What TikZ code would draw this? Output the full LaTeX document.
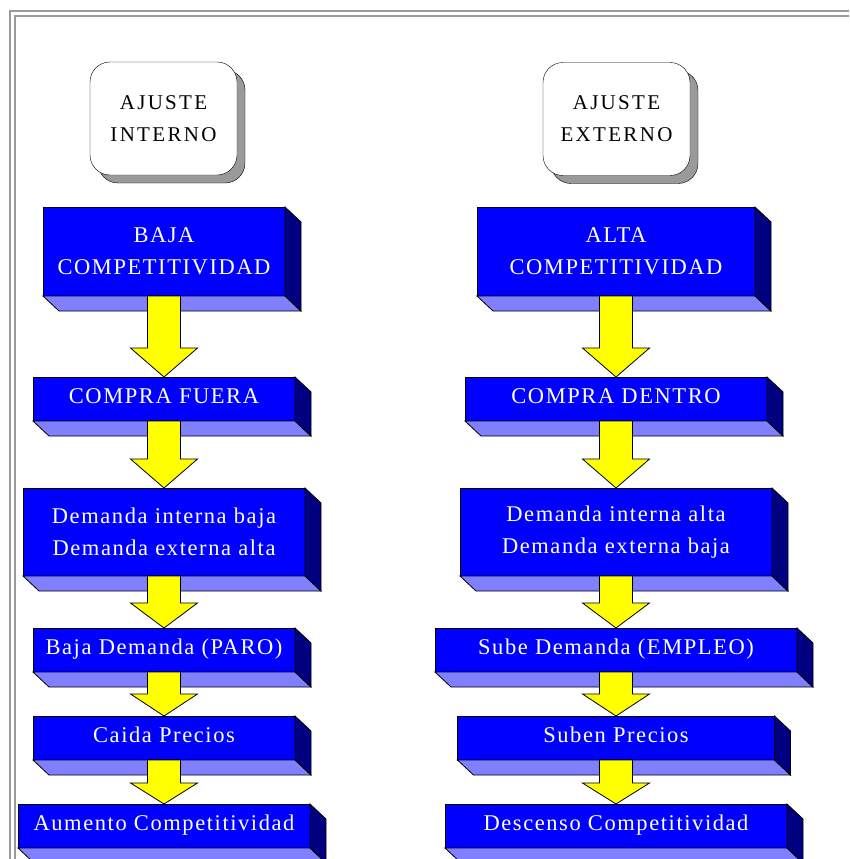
\documentclass[tikz,border=0pt]{standalone}
\usepackage{fontspec}
\setmainfont{Liberation Serif}[LetterSpace=7]
\newfontfamily\ajustefont{Liberation Serif}[LetterSpace=11]
\usetikzlibrary{calc, shadows}
\definecolor{azul}{HTML}{0000FF}
\definecolor{azuloscuro}{HTML}{000080}
\definecolor{azulclaro}{HTML}{8080FF}
\definecolor{amarillo}{HTML}{FFFF00}
\definecolor{marco}{HTML}{9A9A9A}
\tikzset{
    ajuste node/.style={rectangle, rounded corners=20pt, draw, thin, fill=white, outer sep=0pt,
        minimum width=147pt, minimum height=113pt, align=center, font=\ajustefont\fontsize{21}{32}\selectfont,
        drop shadow={shadow xshift=8pt, shadow yshift=-8pt, opacity=1, fill=marco, draw=black}},
    caja node/.style 2 args={rectangle, draw, fill=azul, text=white, inner sep=0pt, outer sep=0pt,
        minimum width=#1, minimum height=#2, align=center, font=\fontsize{22.5}{32}\selectfont},
    una linea/.style={text height=15pt, text depth=6pt},
    caja lado/.style={draw, fill=azuloscuro, line join=miter},
    caja fondo/.style={draw, fill=azulclaro, line join=miter},
    flecha/.style={draw, fill=amarillo, line join=miter},
    borde/.style={draw=marco, line width=2pt},
}
\newcommand{\profundo}[1]{
    \path[caja fondo] (#1.south west) -- (#1.south east) -- ++(16,15) -- ($(#1.south west)+(16,15)$) -- cycle;
    \path[caja lado] (#1.north east) -- ++(16,15) -- ($(#1.south east)+(16,15)$) -- (#1.south east) -- cycle;
}
\newcommand{\flecha}[3]{
    \path[flecha] ($(#1.south)+(-16.5,0)$) -- ($(#1.south |- #2.north)+(-16.5,-#3)$) -- ++(-17,0)
        -- (#1.south |- #2.north) -- ++(33.5,-#3) -- ++(-17,0) -- ($(#1.south)+(16.5,0)$) -- cycle;
}

\begin{document}
\begin{tikzpicture}[x=1pt, y=-1pt, line width=0.8pt]
    \useasboundingbox (0,0) rectangle (849,859);
    \clip (0,0) rectangle (849,859);
    \draw[borde] (10,870) |- (860,11);
    \draw[borde] (15,870) |- (860,16);

    \node[ajuste node] (ai) at (163.5,118.5) {AJUSTE\\INTERNO};
    \node[ajuste node] (ae) at (616.5,119) {AJUSTE\\EXTERNO};

    \node[caja node={242pt}{89pt}] (bc) at (164,251.5) {BAJA\\COMPETITIVIDAD};
    \node[caja node={262pt}{44pt}, una linea] (cf) at (164,399) {COMPRA FUERA};
    \node[caja node={282pt}{88pt}] (di) at (164,532) {Demanda interna baja\\Demanda externa alta};
    \node[caja node={262pt}{44pt}, una linea] (bd) at (164,650) {Baja Demanda (PARO)};
    \node[caja node={262pt}{44pt}, una linea] (cp) at (164,738) {Caida Precios};
    \node[caja node={292pt}{44pt}, una linea] (am) at (164,826) {Aumento Competitividad};

    \node[caja node={278pt}{89pt}] (ac) at (616,251.5) {ALTA\\COMPETITIVIDAD};
    \node[caja node={302pt}{44pt}, una linea] (cd) at (616,399) {COMPRA DENTRO};
    \node[caja node={312pt}{88pt}] (de) at (616,532) {Demanda interna alta\\Demanda externa baja};
    \node[caja node={362pt}{44pt}, una linea] (sd) at (616,650) {Sube Demanda (EMPLEO)};
    \node[caja node={317pt}{44pt}, una linea] (sp) at (616,738) {Suben Precios};
    \node[caja node={342pt}{44pt}, una linea] (dc) at (616,826) {Descenso Competitividad};

    \foreach \c in {bc,cf,di,bd,cp,am,ac,cd,de,sd,sp,dc}
        {\profundo{\c}}

    \flecha{bc}{cf}{29}
    \flecha{cf}{di}{29}
    \flecha{di}{bd}{25}
    \flecha{bd}{cp}{22}
    \flecha{cp}{am}{21}
    \flecha{ac}{cd}{29}
    \flecha{cd}{de}{29}
    \flecha{de}{sd}{25}
    \flecha{sd}{sp}{22}
    \flecha{sp}{dc}{21}
\end{tikzpicture}
\end{document}
